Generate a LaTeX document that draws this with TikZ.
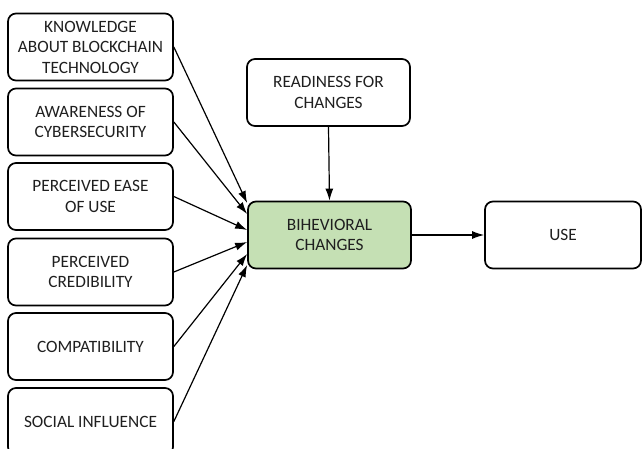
\documentclass[tikz,border=0pt]{standalone}
\usepackage{fontspec}
\setmainfont{Carlito}
\usetikzlibrary{arrows.meta}
\definecolor{boxgreen}{HTML}{C5E0B4}
\definecolor{txt}{HTML}{1F1F1F}
\tikzset{
  box/.style={draw=black, line width=1.7pt, rounded corners=8pt, align=center,
    inner sep=0pt, text=txt, font=\fontsize{17.3}{20.5}\selectfont},
  leftbox/.style={box, minimum width=165pt, minimum height=67pt},
  midbox/.style={box, minimum width=163pt, minimum height=67pt},
  arr/.style={draw=black, line width=1.2pt, -{Latex[length=12pt,width=8pt]}}
}
\begin{document}
\begin{tikzpicture}[x=1pt,y=-1pt]
\clip (0,0) rectangle (643,448);
\node[leftbox] (k) at (90.5,47) {KNOWLEDGE\\ABOUT BLOCKCHAIN\\TECHNOLOGY};
\node[leftbox] (a) at (90.5,122) {AWARENESS OF\\CYBERSECURITY};
\node[leftbox] (p) at (90.5,196.5) {PERCEIVED EASE\\OF USE};
\node[leftbox] (pc) at (90.5,272) {PERCEIVED\\CREDIBILITY};
\node[leftbox] (co) at (90.5,346.5) {COMPATIBILITY};
\node[leftbox] (s) at (90.5,421.5) {SOCIAL INFLUENCE};
\node[midbox] (r) at (328.5,92.5) {READINESS FOR\\CHANGES};
\node[midbox, fill=boxgreen] (b) at (329.5,235) {BIHEVIORAL\\CHANGES};
\node[box, minimum width=156pt, minimum height=67pt] (u) at (563,235) {USE};
\draw[arr] (k.east) -- ([yshift=32pt]b.west);
\draw[arr] (a.east) -- ([yshift=21pt]b.west);
\draw[arr] (p.east) -- ([yshift=5pt]b.west);
\draw[arr] (pc.east) -- ([yshift=-7pt]b.west);
\draw[arr] (co.east) -- ([yshift=-19pt]b.west);
\draw[arr] (s.east) -- ([yshift=-30pt]b.west);
\draw[arr] (r.south) -- (b.north);
\draw[arr] (b.east) -- (u.west);
\end{tikzpicture}
\end{document}
